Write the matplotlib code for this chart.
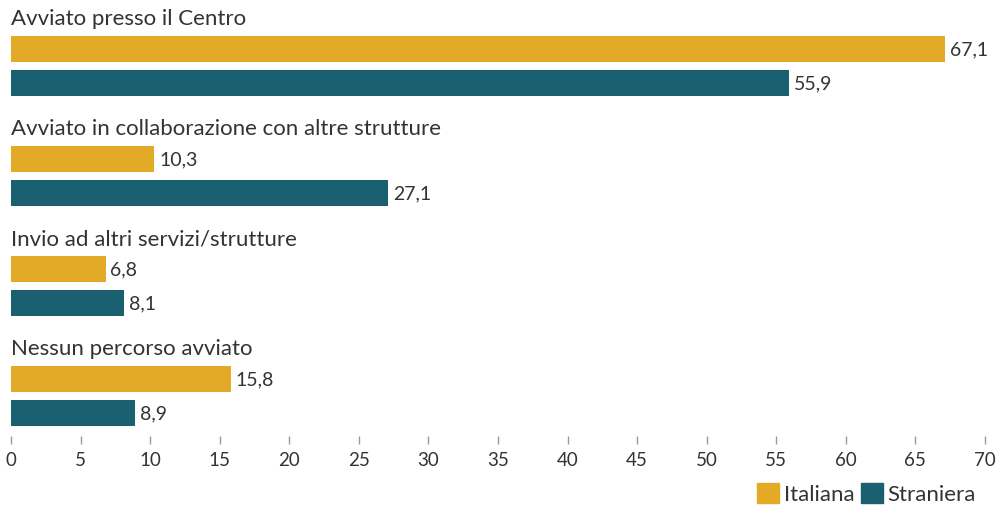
import matplotlib.pyplot as plt
from matplotlib.patches import Patch

categories = ['Avviato presso il Centro',
              'Avviato in collaborazione con altre strutture',
              'Invio ad altri servizi/strutture',
              'Nessun percorso avviato']
italiana = [67.1, 10.3, 6.8, 15.8]
straniera = [55.9, 27.1, 8.1, 8.9]
series_names = ['Italiana', 'Straniera']
xticks = list(range(0, 75, 5))

gold = '#E3AA27'
teal = '#1B6070'
txt = '#333333'

plt.rcParams['font.family'] = ['Lato', 'DejaVu Sans']

fig = plt.figure(figsize=(9.97, 5.10), dpi=100)
ax = fig.add_axes([11 / 997, 1 - 437 / 510, (985 - 11) / 997, 437 / 510])

# one group per unit, second bar shifted down a little
off = 34 / 110
h = 26 / 110
for i, (cat, a, b) in enumerate(zip(categories, italiana, straniera)):
    ax.barh(i, a, height=h, color=gold)
    ax.barh(i + off, b, height=h, color=teal)
    ax.text(0, i - 0.28, cat, ha='left', va='center', fontsize=16, color=txt)
    for y, v in ((i, a), (i + off, b)):
        ax.text(v + 0.35, y, f'{v:.1f}'.replace('.', ','), ha='left', va='center',
                fontsize=14, color=txt)

ax.set_xlim(0, 70)
ax.set_ylim(-50 / 110 + 437 / 110, -50 / 110)
ax.set_xticks(xticks)
ax.set_xticklabels([str(t) for t in xticks], fontsize=13.5, color=txt)
ax.tick_params(axis='x', length=6, width=1, color='#999999', pad=5)
ax.set_yticks([])
for s in ax.spines.values():
    s.set_visible(False)

handles = [Patch(color=gold), Patch(color=teal)]
fig.legend(handles, series_names, loc='center right', bbox_to_anchor=(0.99, 0.03),
           ncol=2, frameon=False, fontsize=16, handlelength=1.0, handleheight=1.0,
           handletextpad=0.2, columnspacing=0.3, labelcolor=txt, borderpad=0)

fig.savefig('out.png', dpi=100)
